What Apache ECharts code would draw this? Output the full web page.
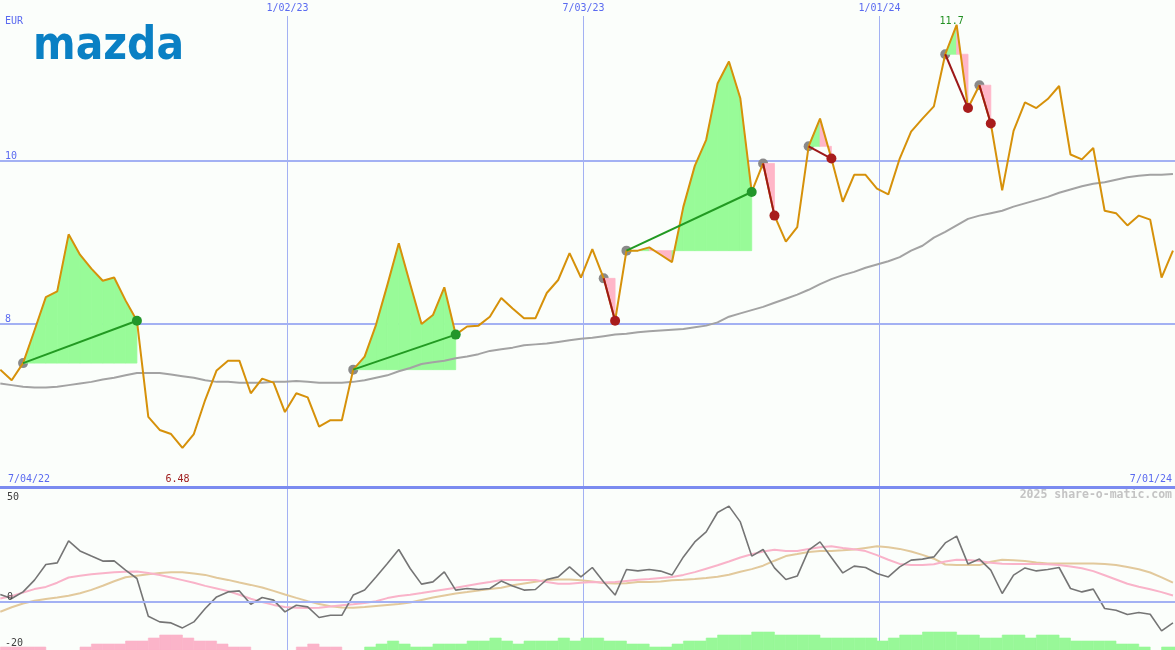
<!DOCTYPE html>
<html><head><meta charset="utf-8">
<script src="https://cdn.jsdelivr.net/npm/echarts@6/dist/echarts.min.js"></script>
<style>html,body{margin:0;padding:0;background:#fbfefb}#c{width:1175px;height:650px}</style>
</head><body><div id="c"></div>
<script>
// ---------- data ----------
const currency = 'EUR';
const brand = 'mazda';
const watermark = '2025 share-o-matic.com';
const firstWeek = '2022-07-10';
const rangeDates = ['2022-07-04', '2024-07-01'];
const gridDates = ['2023-01-02', '2023-07-03', '2024-01-01'];
const priceTicks = [8, 10];
const oscTicks = [50, 0, -20];

const price = [
  7.44, 7.31, 7.52, 7.92, 8.33, 8.40, 9.10, 8.85, 8.68, 8.53,
  8.57, 8.29, 8.04, 6.86, 6.70, 6.65, 6.48, 6.65, 7.07, 7.43,
  7.55, 7.55, 7.15, 7.33, 7.28, 6.92, 7.15, 7.10, 6.74, 6.82,
  6.82, 7.44, 7.60, 7.99, 8.48, 8.99, 8.49, 8.00, 8.11, 8.45,
  7.87, 7.97, 7.98, 8.09, 8.32, 8.19, 8.07, 8.07, 8.38, 8.54,
  8.87, 8.57, 8.92, 8.56, 8.04, 8.90, 8.90, 8.94, 8.85, 8.76,
  9.44, 9.94, 10.26, 10.95, 11.22, 10.77, 9.62, 9.97, 9.33, 9.01,
  9.19, 10.18, 10.52, 10.03, 9.50, 9.83, 9.83, 9.66, 9.59, 10.03,
  10.36, 10.52, 10.67, 11.31, 11.67, 10.65, 10.93, 10.46, 9.64, 10.37,
  10.72, 10.65, 10.76, 10.92, 10.08, 10.02, 10.16, 9.39, 9.36, 9.21,
  9.33, 9.28, 8.57, 8.90
];
const movingAvg = [
  7.27, 7.25, 7.23, 7.22, 7.22, 7.23, 7.25, 7.27, 7.29, 7.32,
  7.34, 7.37, 7.40, 7.40, 7.40, 7.38, 7.36, 7.34, 7.31, 7.29,
  7.29, 7.28, 7.28, 7.28, 7.29, 7.29, 7.30, 7.29, 7.28, 7.28,
  7.28, 7.29, 7.31, 7.34, 7.37, 7.42, 7.46, 7.51, 7.53, 7.55,
  7.58, 7.60, 7.63, 7.67, 7.69, 7.71, 7.74, 7.75, 7.76, 7.78,
  7.80, 7.82, 7.83, 7.85, 7.87, 7.88, 7.90, 7.91, 7.92, 7.93,
  7.94, 7.96, 7.98, 8.02, 8.09, 8.13, 8.17, 8.21, 8.26, 8.31,
  8.36, 8.42, 8.49, 8.55, 8.60, 8.64, 8.69, 8.73, 8.77, 8.82,
  8.90, 8.96, 9.06, 9.13, 9.21, 9.29, 9.33, 9.36, 9.39, 9.44,
  9.48, 9.52, 9.56, 9.61, 9.65, 9.69, 9.72, 9.74, 9.77, 9.80,
  9.82, 9.83, 9.83, 9.84
];
const osc = [
  3.6, 1.6, 4.9, 10.8, 18.6, 19.4, 30.4, 25.4, 22.8, 20.3,
  20.4, 15.8, 11.6, -7.3, -10.1, -10.6, -13.1, -10.1, -3.4, 2.4,
  4.9, 5.4, -1.3, 2.1, 0.8, -5.1, -1.8, -2.6, -7.9, -6.8,
  -6.8, 3.3, 5.8, 12.4, 19.1, 26.1, 16.6, 8.8, 9.9, 14.9,
  5.8, 6.6, 6.1, 6.6, 10.3, 7.8, 5.8, 6.1, 11.1, 12.4,
  17.4, 12.4, 17.1, 9.9, 3.3, 16.1, 15.4, 16.1, 15.3, 13.3,
  22.4, 29.9, 34.9, 44.6, 47.8, 39.9, 22.8, 26.1, 16.9, 11.1,
  12.8, 25.8, 29.9, 22.1, 14.4, 17.8, 17.1, 14.1, 12.4, 17.4,
  20.8, 21.3, 22.4, 29.4, 32.8, 18.8, 21.3, 15.8, 4.1, 13.3,
  16.9, 15.4, 16.1, 17.1, 6.6, 4.9, 6.3, -3.4, -4.3, -6.4,
  -5.4, -6.3, -14.6, -10.6
];
const oscAvgFast = [
  1.6, 2.8, 4.6, 6.3, 7.4, 9.5, 12.1, 13.0, 13.7, 14.2,
  14.7, 15.0, 15.1, 14.4, 13.3, 12.1, 10.8, 9.5, 7.9, 6.6,
  5.3, 3.5, 1.5, -0.2, -1.6, -2.7, -3.0, -3.1, -3.0, -2.4,
  -1.8, -1.3, -0.7, 0.2, 1.8, 2.9, 3.5, 4.3, 5.2, 6.1,
  7.0, 8.0, 9.0, 9.9, 10.9, 10.9, 10.9, 10.8, 9.9, 9.0,
  9.0, 9.5, 9.8, 9.6, 9.8, 10.4, 11.0, 11.3, 11.8, 12.3,
  13.4, 14.8, 16.5, 18.2, 20.1, 22.1, 23.7, 25.1, 26.0, 25.4,
  25.4, 26.3, 27.2, 27.7, 26.9, 26.2, 25.3, 23.3, 21.0, 18.9,
  18.4, 18.3, 18.7, 20.1, 21.0, 20.9, 20.3, 19.5, 19.0, 18.8,
  18.8, 18.8, 18.7, 18.4, 17.6, 16.7, 15.3, 13.2, 11.1, 9.0,
  7.5, 6.2, 4.8, 3.1
];
const oscAvgSlow = [
  -5.0, -2.8, -0.9, 0.5, 1.3, 2.1, 3.0, 4.2, 5.9, 8.0,
  10.2, 12.2, 13.0, 13.7, 14.4, 14.7, 14.7, 14.1, 13.4, 12.0,
  10.9, 9.6, 8.4, 7.1, 5.4, 3.6, 1.9, 0.3, -1.2, -2.3,
  -2.9, -3.0, -2.7, -2.1, -1.6, -1.2, -0.4, 0.9, 2.1, 3.1,
  4.1, 4.8, 5.6, 6.3, 7.0, 8.2, 9.1, 10.0, 10.9, 11.1,
  11.1, 10.7, 10.1, 9.3, 9.1, 9.2, 9.8, 9.9, 10.1, 10.7,
  11.0, 11.4, 11.9, 12.5, 13.5, 15.0, 16.3, 18.0, 20.5, 22.8,
  23.8, 24.9, 25.4, 25.4, 25.7, 26.1, 26.9, 27.7, 27.2, 26.4,
  25.1, 23.4, 21.5, 18.6, 18.3, 18.3, 18.3, 20.0, 21.0, 20.7,
  20.4, 19.6, 19.1, 19.1, 19.1, 19.1, 19.1, 18.8, 18.3, 17.3,
  16.2, 14.6, 12.2, 9.5
];
const trendHist = [
  -1, -1, -1, -1, 0, 0, 0, -1, -2, -2,
  -2, -3, -3, -4, -5, -5, -4, -3, -3, -2,
  -1, -1, 0, 0, 0, 0, -1, -2, -1, -1,
  0, 0, 1, 2, 3, 2, 1, 1, 2, 2,
  2, 3, 3, 4, 3, 2, 3, 3, 3, 4,
  3, 4, 4, 3, 3, 2, 2, 1, 1, 2,
  3, 3, 4, 5, 5, 5, 6, 6, 5, 5,
  5, 5, 4, 4, 4, 4, 4, 3, 4, 5,
  5, 6, 6, 6, 5, 5, 4, 4, 5, 5,
  4, 5, 5, 4, 3, 3, 3, 3, 2, 2,
  1, 0, 1, 1
];
const tradeEntry = [2, 31, 53, 55, 67, 71, 83, 86];
const tradeExit  = [12, 40, 54, 66, 68, 73, 85, 87];

// ---------- helpers ----------
const DAY = 864e5;
const t0 = Date.parse(firstWeek + 'T00:00:00Z');
const wk = k => t0 + 7 * DAY * k;
const xMin = Date.parse('2022-07-09T19:34:00Z');
const xMax = Date.parse('2024-07-01T06:08:00Z');
const pts = arr => arr.map((v, k) => [wk(k), v]);
const fmtDate = s => { const d = new Date(s + 'T00:00:00Z');
  return (d.getUTCMonth() + 1) + '/' + String(d.getUTCDate()).padStart(2, '0') + '/' + String(d.getUTCFullYear()).slice(2); };
const MONO = '"DejaVu Sans Mono", monospace';
const BLUE = '#5a6af0', GRIDC = '#a3b1f3';
const GREEN_FILL = '#98fb98', PINK_FILL = '#ffb6c8';
const CLEAR = 'rgba(0,0,0,0)';

const segs = [];
tradeEntry.forEach((e, i) => {
  const base = price[e];
  for (let j = e; j < tradeExit[i]; j++) {
    segs.push([wk(j), price[j], wk(j + 1), price[j + 1], base, price[j + 1] >= base ? 1 : 0]);
  }
});
const links = tradeEntry.map((e, i) => [wk(e), price[e], wk(tradeExit[i]), price[tradeExit[i]], price[tradeExit[i]] >= price[e] ? 1 : 0]);
let kMax = 0, kMin = 0;
price.forEach((v, k) => { if (v > price[kMax]) kMax = k; if (v < price[kMin]) kMin = k; });

const xAx = (gi, extra) => Object.assign({ type: 'time', gridIndex: gi, min: xMin, max: xMax,
  axisLabel: { show: false }, axisTick: { show: false }, splitLine: { show: false }, axisLine: { show: false } }, extra || {});

const option = {
  backgroundColor: '#fbfefb',
  animation: false,
  grid: [
    { left: 0, right: 0, top: 0, height: 487 },
    { left: 0, right: 0, top: 488, height: 162 },
    { left: 0, right: 0, top: 16, bottom: 0 }
  ],
  xAxis: [
    xAx(0, { axisLine: { show: true, onZero: false, lineStyle: { color: '#7b8bf0', width: 3 } } }),
    xAx(1), xAx(2)
  ],
  yAxis: [
    { gridIndex: 0, type: 'value', min: 6, max: 11.9755, interval: 2,
      axisLine: { show: false }, axisTick: { show: false },
      splitLine: { show: true, showMinLine: false, showMaxLine: false, lineStyle: { color: GRIDC, width: 2 } },
      axisLabel: { inside: true, margin: 5, color: BLUE, fontFamily: MONO, fontSize: 10, verticalAlign: 'bottom',
        showMinLabel: false, showMaxLabel: false,
        formatter: v => priceTicks.includes(v) ? String(v) : '' } },
    { gridIndex: 1, type: 'value', min: -24.15, max: 56.85, show: false, splitLine: { show: false } },
    { gridIndex: 1, type: 'value', min: 0, max: 54, show: false, splitLine: { show: false } },
    { gridIndex: 2, type: 'value', min: 0, max: 1, show: false, splitLine: { show: false } }
  ],
  graphic: [
    { type: 'text', x: 5, y: 21, style: { text: currency, font: '10px ' + MONO, fill: BLUE, textVerticalAlign: 'middle' } },
    { type: 'text', x: 33, y: 70, scaleX: 0.89, style: { text: brand, font: 'bold 46px "DejaVu Sans"', fill: '#0a80c4', textVerticalAlign: 'bottom' } },
    { type: 'text', x: 8, y: 479, style: { text: fmtDate(rangeDates[0]), font: '10px ' + MONO, fill: BLUE, textVerticalAlign: 'middle' } },
    { type: 'text', x: 1172, y: 479, style: { text: fmtDate(rangeDates[1]), font: '10px ' + MONO, fill: BLUE, textAlign: 'right', textVerticalAlign: 'middle' } },
    { type: 'text', x: 1172, y: 495, style: { text: watermark, font: 'bold 11.5px ' + MONO, fill: '#c4c4c4', textAlign: 'right', textVerticalAlign: 'middle' } }
  ],
  series: [
    { // vertical date lines
      type: 'custom', xAxisIndex: 2, yAxisIndex: 3, z: 0, silent: true,
      data: gridDates.map(d => [Date.parse(d + 'T00:00:00Z'), 0]),
      renderItem: (params, api) => {
        const cs = params.coordSys;
        const x = Math.round(api.coord([api.value(0), 0])[0]) + 0.5;
        return { type: 'group', children: [
          { type: 'line', shape: { x1: x, y1: cs.y, x2: x, y2: cs.y + cs.height }, style: { stroke: GRIDC, lineWidth: 1 } },
          { type: 'text', style: { text: fmtDate(gridDates[params.dataIndex]), x: x, y: cs.y - 8, textAlign: 'center', textVerticalAlign: 'middle', font: '10px ' + MONO, fill: BLUE } }
        ] };
      }
    },
    { // trend histogram
      type: 'custom', xAxisIndex: 1, yAxisIndex: 2, z: 1, silent: true, clip: true,
      data: trendHist.map((v, k) => [wk(k), wk(k + 1), Math.abs(v), v]).filter(d => d[2] > 0),
      encode: { x: [0, 1], y: 2 },
      renderItem: (params, api) => {
        const p0 = api.coord([api.value(0), 0]);
        const p1 = api.coord([api.value(1), api.value(2)]);
        const col = api.value(3) < 0 ? '#fbb4c9' : '#98f898';
        return { type: 'rect', shape: { x: p0[0], y: p1[1], width: p1[0] - p0[0], height: p0[1] - p1[1] },
          style: { fill: col, stroke: col, lineWidth: 0.6 } };
      }
    },
    { type: 'line', xAxisIndex: 1, yAxisIndex: 1, z: 2, data: pts(oscAvgSlow), showSymbol: false, silent: true,
      lineStyle: { color: '#e2c99c', width: 2 } },
    { type: 'line', xAxisIndex: 1, yAxisIndex: 1, z: 2, data: pts(oscAvgFast), showSymbol: false, silent: true,
      lineStyle: { color: '#f9b3c9', width: 2 } },
    { type: 'line', xAxisIndex: 1, yAxisIndex: 1, z: 3, data: pts(osc), showSymbol: false, silent: true,
      lineStyle: { color: '#757575', width: 1.6 },
      markLine: { silent: true, symbol: 'none', animation: false,
        label: { color: '#404040', fontFamily: MONO, fontSize: 10 },
        data: oscTicks.map(v => ({ yAxis: v,
          lineStyle: { color: v === 0 ? GRIDC : CLEAR, width: 2, type: 'solid' },
          label: { show: true, color: '#404040', position: v < 0 ? 'insideStartBottom' : 'insideStartTop',
            distance: v < 0 ? [5, -3] : [7, -1], formatter: String(v) } })) } },
    { // entry dots
      type: 'scatter', xAxisIndex: 0, yAxisIndex: 0, z: 1, silent: true, symbolSize: 10,
      data: tradeEntry.map(k => [wk(k), price[k]]), itemStyle: { color: '#8a8a8a', opacity: 1 } },
    { // trade fills
      type: 'custom', xAxisIndex: 0, yAxisIndex: 0, z: 2, silent: true,
      data: segs, encode: { x: [0, 2], y: [1, 3, 4] },
      renderItem: (params, api) => {
        const b1 = api.coord([api.value(0), api.value(4)]);
        const a = api.coord([api.value(0), api.value(1)]);
        const c = api.coord([api.value(2), api.value(3)]);
        const b2 = api.coord([api.value(2), api.value(4)]);
        const col = api.value(5) ? GREEN_FILL : PINK_FILL;
        return { type: 'polygon', shape: { points: [b1, a, c, b2] }, style: { fill: col, stroke: col, lineWidth: 0.8 } };
      }
    },
    { type: 'line', xAxisIndex: 0, yAxisIndex: 0, z: 3, data: pts(movingAvg), showSymbol: false, silent: true,
      lineStyle: { color: '#a3a3a3', width: 2 } },
    { type: 'line', xAxisIndex: 0, yAxisIndex: 0, z: 4, data: pts(price), showSymbol: false, silent: true,
      lineStyle: { color: '#d6910a', width: 2 } },
    { // trade links
      type: 'custom', xAxisIndex: 0, yAxisIndex: 0, z: 5, silent: true,
      data: links, encode: { x: [0, 2], y: [1, 3] },
      renderItem: (params, api) => {
        const a = api.coord([api.value(0), api.value(1)]);
        const b = api.coord([api.value(2), api.value(3)]);
        return { type: 'line', shape: { x1: a[0], y1: a[1], x2: b[0], y2: b[1] },
          style: { stroke: api.value(4) ? '#229a22' : '#9c1818', lineWidth: 2 } };
      }
    },
    { // exit dots
      type: 'scatter', xAxisIndex: 0, yAxisIndex: 0, z: 6, silent: true, symbolSize: 10,
      data: tradeExit.map((k, i) => ({ value: [wk(k), price[k]],
        itemStyle: { color: price[k] >= price[tradeEntry[i]] ? '#22962a' : '#a81c1c', opacity: 1 } })) },
    { // extreme labels
      type: 'custom', xAxisIndex: 0, yAxisIndex: 0, z: 7, silent: true,
      data: [[wk(kMax), price[kMax], 1], [wk(kMin), price[kMin], 0]],
      renderItem: (params, api) => {
        const cs = params.coordSys;
        const top = api.value(2) === 1;
        const x = api.coord([api.value(0), api.value(1)])[0] - 5;
        return { type: 'text', style: { text: Number(api.value(1)).toPrecision(3), x: x,
          y: top ? cs.y + 21 : cs.y + cs.height - 8, textAlign: 'center', textVerticalAlign: 'middle',
          font: '10px ' + MONO, fill: top ? '#229022' : '#a02020' } };
      }
    }
  ]
};
const chart = echarts.init(document.getElementById('c'));
chart.setOption(option);
</script></body></html>
